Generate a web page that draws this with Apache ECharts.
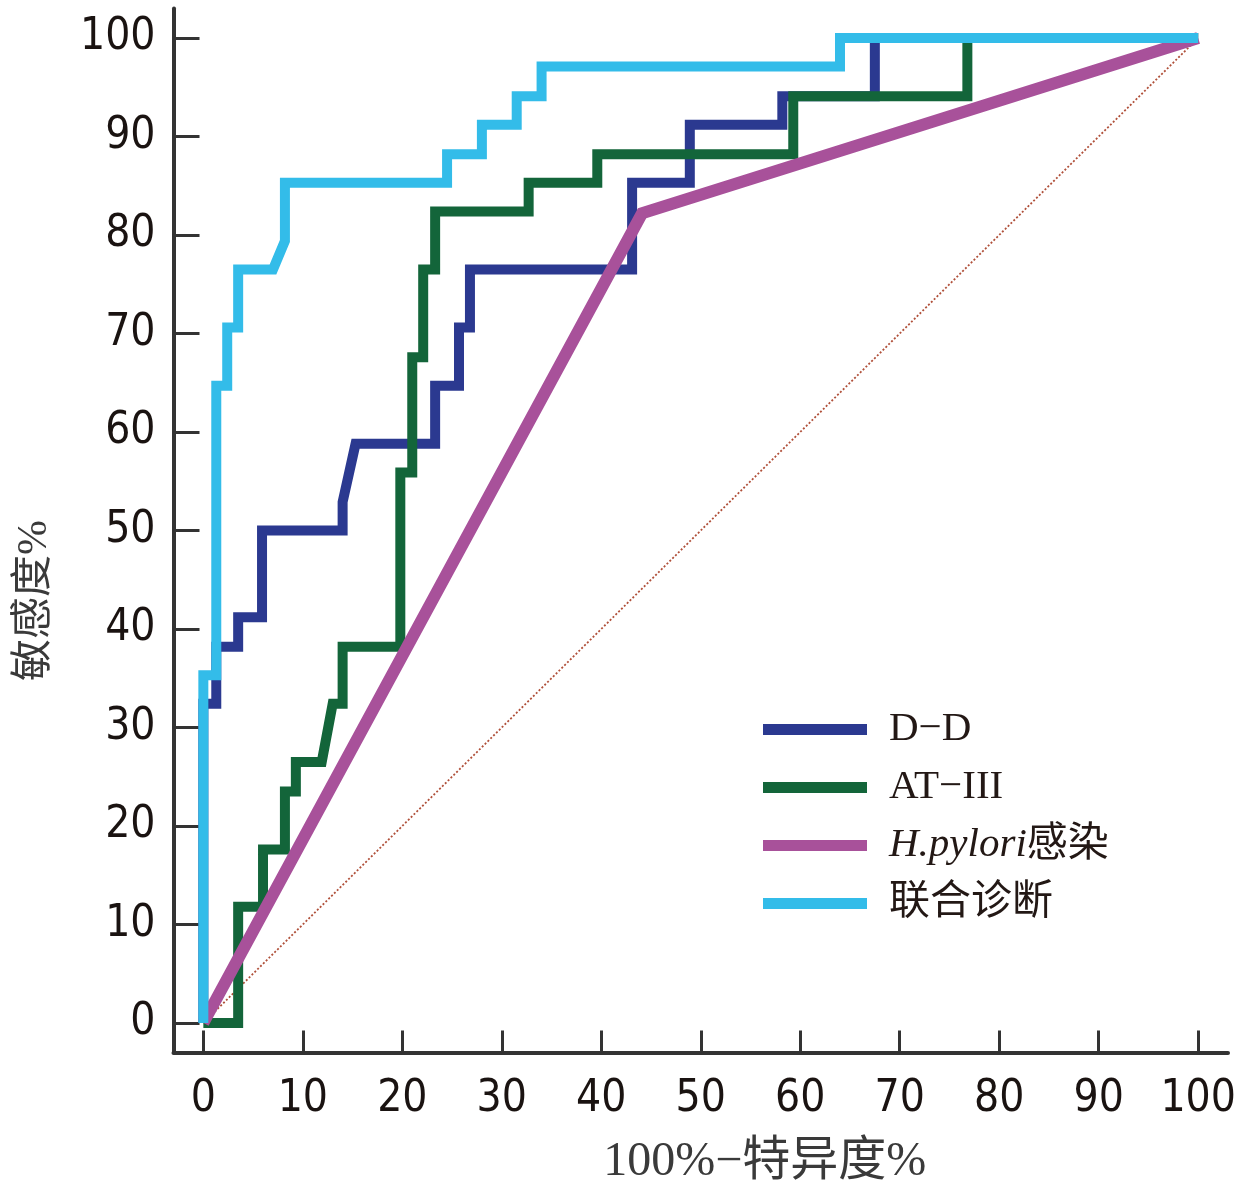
<!DOCTYPE html>
<html>
<head>
<meta charset="utf-8">
<script src="https://cdn.jsdelivr.net/npm/echarts@6/dist/echarts.min.js"></script>
<style>
html,body{margin:0;padding:0;background:#fff;}
#chart{width:1260px;height:1203px;}
</style>
</head>
<body>
<div id="chart"></div>
<script>
// ---- data (x = 100% - specificity %, y = sensitivity %) ----
const seriesNames = ['D\u2212D', 'AT\u2212III', 'H.pylori感染', '联合诊断'];
const tickValues = [0, 10, 20, 30, 40, 50, 60, 70, 80, 90, 100];

const ddRoc = [[0,0],[0,32.4],[1.3,32.4],[1.3,38.2],[3.5,38.2],[3.5,41.2],[5.9,41.2],[5.9,50],[14,50],[14,52.9],[15.3,58.8],[23.3,58.8],[23.3,64.7],[25.7,64.7],[25.7,70.6],[26.8,70.6],[26.8,76.5],[43.1,76.5],[43.1,85.3],[48.9,85.3],[48.9,91.2],[58.2,91.2],[58.2,94.1],[67.5,94.1],[67.5,100],[100,100]];
const at3Roc = [[0,0],[3.5,0],[3.5,11.8],[6,11.8],[6,17.6],[8.2,17.6],[8.2,23.5],[9.3,23.5],[9.3,26.5],[11.9,26.5],[13,32.4],[14,32.4],[14,38.2],[19.8,38.2],[19.8,55.9],[21,55.9],[21,67.6],[22.1,67.6],[22.1,76.5],[23.3,76.5],[23.3,82.4],[32.7,82.4],[32.7,85.3],[39.6,85.3],[39.6,88.2],[59.3,88.2],[59.3,94.1],[76.8,94.1],[76.8,100],[100,100]];
const hpRoc = [[0,0],[44.1,82.2],[100,100]];
const combinedRoc = [[0,0],[0,35.3],[1.3,35.3],[1.3,64.7],[2.4,64.7],[2.4,70.6],[3.5,70.6],[3.5,76.5],[7,76.5],[8.2,79.4],[8.2,85.3],[24.5,85.3],[24.5,88.2],[28,88.2],[28,91.2],[31.5,91.2],[31.5,94.1],[34,94.1],[34,97.1],[64,97.1],[64,100],[100,100]];
const refLine = [[0,0],[100,100]];

const colors = ['#2b3990', '#13653a', '#a8519a', '#33bce9'];
const widths = [10, 10, 12, 10];

const labelFont = "'DejaVu Sans Condensed', 'Liberation Sans Narrow', 'DejaVu Sans', sans-serif";
const serifFont = "'Liberation Serif', 'DejaVu Serif', 'Noto Sans CJK SC', serif";

const chart = echarts.init(document.getElementById('chart'), null, {renderer: 'canvas'});

function stepSeries(i, data) {
  return {
    name: seriesNames[i],
    type: 'line',
    data: data,
    symbol: 'none',
    showSymbol: false,
    silent: true,
    z: 3 + i,
    lineStyle: { color: colors[i], width: widths[i], cap: 'butt', join: 'miter', miterLimit: 10 },
    itemStyle: { color: colors[i] }
  };
}

const axisCommon = {
  type: 'value',
  min: -3,
  max: 103,
  splitLine: { show: false },
  axisLine: { show: true, onZero: false, lineStyle: { color: '#333333', width: 4 } },
  axisTick: { show: true, inside: true, customValues: tickValues, lineStyle: { color: '#333333', width: 3 } },
  axisLabel: { customValues: tickValues, color: '#1a1311', fontSize: 44, fontFamily: labelFont }
};

chart.setOption({
  animation: false,
  backgroundColor: '#ffffff',
  grid: { left: 173.5, right: 32, top: 8.5, bottom: 150.5, containLabel: false, outerBoundsMode: 'none' },
  xAxis: Object.assign({}, axisCommon, {
    axisTick: Object.assign({}, axisCommon.axisTick, { length: 22 }),
    axisLabel: Object.assign({}, axisCommon.axisLabel, { margin: 25 }),
    name: '100%\u2212特异度%',
    nameLocation: 'middle',
    nameGap: 86,
    nameTextStyle: { color: '#3a3a3a', fontSize: 48, fontFamily: serifFont, padding: [0, 0, 0, 128] }
  }),
  yAxis: Object.assign({}, axisCommon, {
    axisTick: Object.assign({}, axisCommon.axisTick, { length: 26 }),
    axisLabel: Object.assign({}, axisCommon.axisLabel, { margin: 18 }),
    name: '敏感度%',
    nameLocation: 'middle',
    nameRotate: 90,
    nameGap: 118,
    nameTextStyle: { color: '#3a3a3a', fontSize: 42, fontFamily: serifFont, padding: [0, 140, 0, 0] }
  }),
  legend: {
    data: seriesNames,
    orient: 'vertical',
    left: 763,
    top: 709,
    padding: 0,
    icon: 'rect',
    itemWidth: 104,
    itemHeight: 11,
    itemGap: 17,
    selectedMode: false,
    formatter: function (name) {
      if (name === 'H.pylori感染') return '{i|H.pylori}{n|感染}';
      return '{n|' + name + '}';
    },
    textStyle: {
      color: '#231815',
      fontSize: 41,
      fontFamily: serifFont,
      lineHeight: 40,
      padding: [0, 0, 0, 17],
      rich: {
        i: { fontStyle: 'italic', fontSize: 41, fontFamily: serifFont, color: '#231815', lineHeight: 40 },
        n: { fontSize: 41, fontFamily: serifFont, color: '#231815', lineHeight: 40 }
      }
    }
  },
  series: [
    {
      name: 'ref',
      type: 'line',
      data: refLine,
      symbol: 'none',
      silent: true,
      z: 1,
      lineStyle: { color: '#b0503a', width: 1.8, type: [2, 2] }
    },
    stepSeries(0, ddRoc),
    stepSeries(1, at3Roc),
    stepSeries(2, hpRoc),
    stepSeries(3, combinedRoc)
  ]
});
</script>
</body>
</html>
